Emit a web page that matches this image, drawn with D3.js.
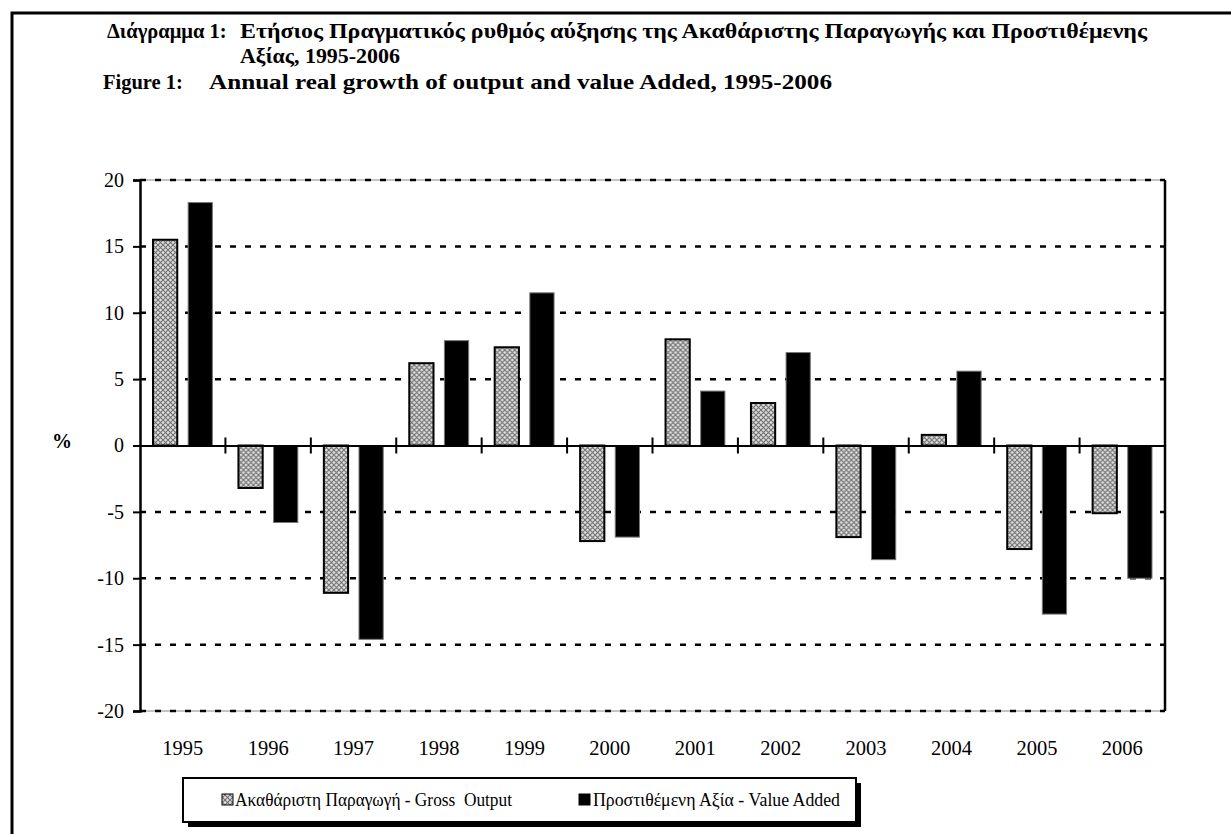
<!DOCTYPE html>
<html>
<head>
<meta charset="utf-8">
<script src="https://cdn.jsdelivr.net/npm/d3@7"></script>
<style>
  body { margin: 0; background: #fff; }
  svg text { font-family: "Liberation Serif", "Times New Roman", Times, "DejaVu Serif", serif; }
</style>
</head>
<body>
<svg id="chart" width="1231" height="834"></svg>
<script>
// Data
const years = ["1995", "1996", "1997", "1998", "1999", "2000", "2001", "2002", "2003", "2004", "2005", "2006"];
const grossOutput = [15.5, -3.2, -11.1, 6.2, 7.4, -7.2, 8.0, 3.2, -6.9, 0.8, -7.8, -5.1];
const valueAdded = [18.3, -5.8, -14.6, 7.9, 11.5, -6.9, 4.1, 7.0, -8.6, 5.6, -12.7, -10.0];
const yTicks = [20, 15, 10, 5, 0, -5, -10, -15, -20];
const seriesNames = ["Ακαθάριστη Παραγωγή - Gross  Output", "Προστιθέμενη Αξία - Value Added"];

const serif = "'Liberation Serif', 'Times New Roman', Times, serif";
const svg = d3.select("#chart");
const W = 1231, H = 834;
const plot = { left: 140, right: 1165, top: 180, bottom: 711 };

// hatched fill for gross output bars
const defs = svg.append("defs");
const pat = defs.append("pattern")
  .attr("id", "hatch")
  .attr("patternUnits", "userSpaceOnUse")
  .attr("width", 5).attr("height", 5);
pat.append("rect").attr("width", 5).attr("height", 5).attr("fill", "#e0e0e0");
pat.append("path").attr("d", "M0,0 L5,5 M5,0 L0,5").attr("stroke", "#707070").attr("stroke-width", 1.1);

// outer frame
svg.append("path")
  .attr("d", `M12,${H} V13 H${W}`)
  .attr("fill", "none").attr("stroke", "#000").attr("stroke-width", 3);

// titles (widths fitted to the original layout)
const title = svg.append("g").attr("font-weight", "bold").attr("font-size", 20.5).attr("font-family", serif);
title.append("text").attr("x", 107).attr("y", 38).text("Διάγραμμα 1:");
title.append("text").attr("x", 240).attr("y", 38)
  .attr("textLength", 907).attr("lengthAdjust", "spacingAndGlyphs")
  .text("Ετήσιος Πραγματικός ρυθμός αύξησης της Ακαθάριστης Παραγωγής και Προστιθέμενης");
title.append("text").attr("x", 240).attr("y", 63)
  .attr("textLength", 160).attr("lengthAdjust", "spacingAndGlyphs")
  .text("Αξίας, 1995-2006");
title.append("text").attr("x", 103).attr("y", 89).text("Figure 1:");
title.append("text").attr("x", 209).attr("y", 89)
  .attr("textLength", 623).attr("lengthAdjust", "spacingAndGlyphs")
  .text("Annual real growth of output and value Added, 1995-2006");

// scales
const y = d3.scaleLinear().domain([-20, 20]).range([plot.bottom, plot.top]);
const x0 = d3.scaleBand().domain(years).range([plot.left, plot.right])
  .paddingInner(0.305).paddingOuter(0.1525);
const x1 = d3.scaleBand().domain([0, 1]).range([0, x0.bandwidth()]).paddingInner(0.31);
const step = x0.step();

// gridlines
const grid = svg.append("g");
grid.selectAll("line.base")
  .data([20, -20])
  .join("line")
  .attr("x1", plot.left).attr("x2", plot.right)
  .attr("y1", d => y(d)).attr("y2", d => y(d))
  .attr("stroke", "#888").attr("stroke-width", 1);
grid.selectAll("line.dash")
  .data(yTicks.filter(d => d !== 0))
  .join("line")
  .attr("x1", plot.left).attr("x2", plot.right)
  .attr("y1", d => y(d)).attr("y2", d => y(d))
  .attr("stroke", "#000").attr("stroke-width", 2.5)
  .attr("stroke-dasharray", "6,9");

// bars
const rows = years.map((yr, i) => ({ yr, vals: [grossOutput[i], valueAdded[i]] }));
const groups = svg.append("g").selectAll("g")
  .data(rows)
  .join("g")
  .attr("transform", d => `translate(${x0(d.yr)},0)`);
groups.selectAll("rect")
  .data(d => d.vals.map((v, k) => ({ v, k })))
  .join("rect")
  .attr("x", d => x1(d.k))
  .attr("width", x1.bandwidth())
  .attr("y", d => y(Math.max(0, d.v)))
  .attr("height", d => Math.abs(y(d.v) - y(0)))
  .attr("fill", d => d.k === 0 ? "url(#hatch)" : "#000")
  .attr("stroke", d => d.k === 0 ? "#000" : "#777")
  .attr("stroke-width", d => d.k === 0 ? 2 : 1);

// right border of the plot area
svg.append("line")
  .attr("x1", plot.right).attr("x2", plot.right)
  .attr("y1", plot.top).attr("y2", plot.bottom)
  .attr("stroke", "#000").attr("stroke-width", 2.5);

// y axis
const yAxis = d3.axisLeft(y).tickValues(yTicks).tickSize(7).tickPadding(9).tickFormat(d => String(d));
const gY = svg.append("g")
  .attr("transform", `translate(${plot.left},0)`)
  .call(yAxis)
  .attr("font-family", serif);
gY.select(".domain").attr("stroke", "#000").attr("stroke-width", 2.5);
gY.selectAll(".tick line").attr("stroke", "#000").attr("stroke-width", 2);
gY.selectAll(".tick text")
  .attr("font-size", 20).attr("fill", "#000");

// zero line with category separators
const gX = svg.append("g")
  .attr("transform", `translate(0,${y(0)})`)
  .call(d3.axisBottom(x0).tickSize(0).tickFormat(""));
gX.select(".domain").attr("stroke", "#000").attr("stroke-width", 2);
gX.selectAll("line.sep")
  .data(years.slice(1))
  .join("line")
  .attr("class", "sep")
  .attr("x1", d => x0(d) - step * 0.1525).attr("x2", d => x0(d) - step * 0.1525)
  .attr("y1", -8).attr("y2", 8)
  .attr("stroke", "#000").attr("stroke-width", 2);

// year labels under the plot
svg.append("g").attr("font-family", serif).selectAll("text")
  .data(years)
  .join("text")
  .attr("x", d => x0(d) + x0.bandwidth() / 2)
  .attr("y", 755)
  .attr("text-anchor", "middle")
  .attr("font-size", 20.5)
  .text(d => d);

// "%" label
svg.append("text")
  .attr("x", 52).attr("y", y(0) + 2)
  .attr("font-family", serif)
  .attr("font-size", 20).attr("font-weight", "bold")
  .text("%");

// legend with shadow
const lg = { x: 183, y: 778, w: 673, h: 44 };
svg.append("rect").attr("x", lg.x + 5).attr("y", lg.y + 5).attr("width", lg.w).attr("height", lg.h).attr("fill", "#000");
svg.append("rect").attr("x", lg.x).attr("y", lg.y).attr("width", lg.w).attr("height", lg.h)
  .attr("fill", "#fff").attr("stroke", "#000").attr("stroke-width", 2);
const legendItems = [{ sx: 222, tx: 235, len: 277, k: 0 }, { sx: 579, tx: 593, len: 247, k: 1 }];
legendItems.forEach(it => {
  svg.append("rect").attr("x", it.sx).attr("y", lg.y + 16).attr("width", 11).attr("height", 11)
    .attr("fill", it.k === 0 ? "url(#hatch)" : "#000")
    .attr("stroke", "#000").attr("stroke-width", 1);
  svg.append("text").attr("x", it.tx).attr("y", lg.y + 28)
    .attr("font-family", serif)
    .attr("font-size", 18).style("white-space", "pre")
    .attr("textLength", it.len).attr("lengthAdjust", "spacingAndGlyphs")
    .text(seriesNames[it.k]);
});
</script>
</body>
</html>
